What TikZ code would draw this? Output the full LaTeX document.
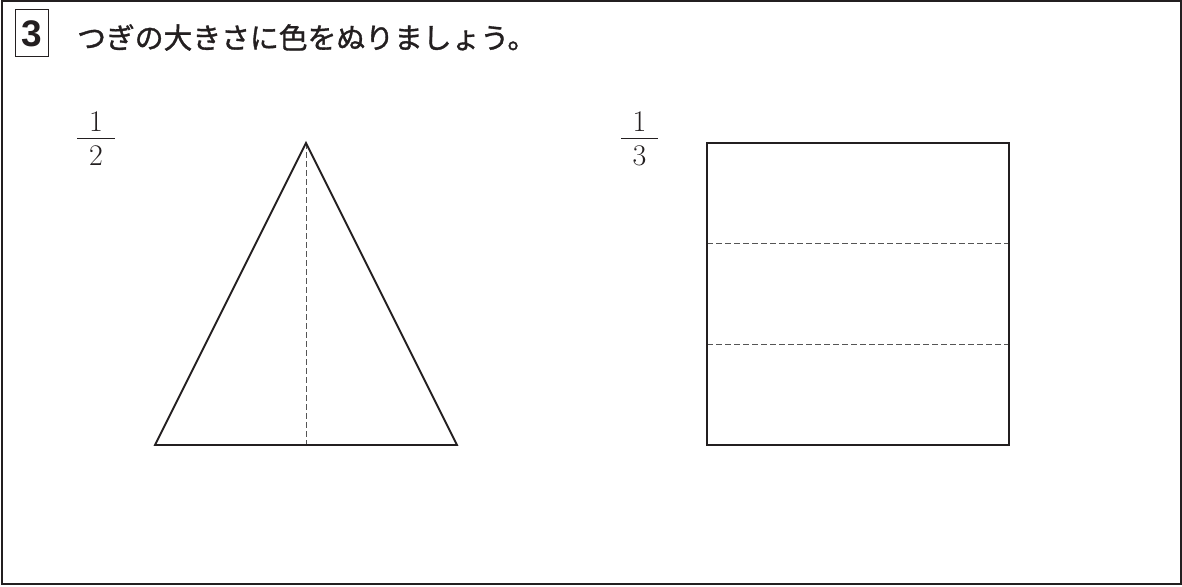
\documentclass[tikz,border=0pt]{standalone}
\usepackage{fontspec}
\newfontfamily\jpfont[FakeBold=1.2]{Noto Sans CJK JP}
\newfontfamily\numfont{Liberation Sans}
\definecolor{ink}{HTML}{231F20}
\definecolor{dashgray}{HTML}{555555}
\begin{document}
\begin{tikzpicture}[x=1pt,y=-1pt,
  shape line/.style={draw=ink,line width=1.8pt,line join=miter},
  cut line/.style={draw=dashgray,line width=0.9pt,dash pattern=on 6pt off 3pt},
  fracdigit/.style={inner sep=0pt,text=ink,font=\fontsize{30}{30}\selectfont},
  fracbar/.style={draw=ink,line width=0.9pt}]
\useasboundingbox (0,0) rectangle (1182,586);
\fill[white] (0,0) rectangle (1182,586);
\draw[ink,line width=2pt] (1.5,1.5) rectangle (1180.5,584);
% header
\node[draw=ink,line width=1pt,minimum width=33pt,minimum height=47pt,inner sep=0pt,text=ink,
  font=\numfont\bfseries\fontsize{37}{37}\selectfont] (num) at (32,33.5) {3};
\node[anchor=west,inner sep=0pt,font=\jpfont\fontsize{28.8}{28.8}\selectfont,text=ink] (title) at (77,37.5)
  {つぎの大きさに色をぬりましょう。};
% fraction 1/2
\node[fracdigit] (n1) at (96,122) {1};
\node[fracdigit] (d1) at (96,155.5) {2};
\coordinate (b1l) at (77,138);
\coordinate (b1r) at (115,138);
\draw[fracbar] (b1l) -- (b1r);
% fraction 1/3
\node[fracdigit] (n2) at (639.5,122) {1};
\node[fracdigit] (d2) at (639.5,155.5) {3};
\coordinate (b2l) at (621,138);
\coordinate (b2r) at (658,138);
\draw[fracbar] (b2l) -- (b2r);
% triangle
\coordinate (apex) at (306,143);
\coordinate (bl) at (155,445);
\coordinate (br) at (457,445);
\coordinate (bm) at (306,445);
\draw[cut line] (apex) -- (bm);
\draw[shape line] (apex) -- (bl) -- (br) -- cycle;
% square
\coordinate (s1) at (707,143);
\coordinate (s2) at (1009,143);
\coordinate (s3) at (1009,445);
\coordinate (s4) at (707,445);
\coordinate (l1a) at (707,243.7);
\coordinate (l1b) at (1009,243.7);
\coordinate (l2a) at (707,344.3);
\coordinate (l2b) at (1009,344.3);
\draw[cut line] (l1a) -- (l1b);
\draw[cut line] (l2a) -- (l2b);
\draw[shape line] (s1) -- (s2) -- (s3) -- (s4) -- cycle;
\end{tikzpicture}
\end{document}
